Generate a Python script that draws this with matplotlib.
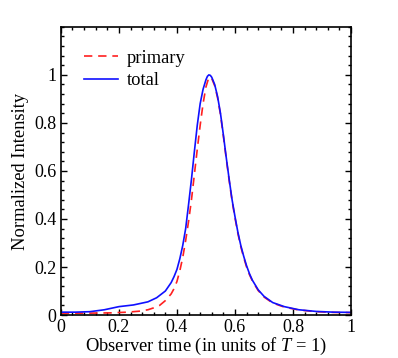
import matplotlib
matplotlib.use("Agg")
import matplotlib.pyplot as plt
from matplotlib.ticker import MultipleLocator, FuncFormatter

plt.rcParams["font.family"] = ["Liberation Serif", "DejaVu Serif"]
plt.rcParams["mathtext.fontset"] = "custom"
plt.rcParams["mathtext.it"] = "Liberation Serif:italic"
plt.rcParams["mathtext.rm"] = "Liberation Serif"

# total light curve
t_total = [0.0, 0.05, 0.1, 0.15, 0.2, 0.25, 0.3, 0.33, 0.36, 0.38, 0.39,
           0.4, 0.41, 0.42, 0.43, 0.44, 0.45, 0.46, 0.47, 0.48, 0.49, 0.5,
           0.505, 0.51, 0.515, 0.52, 0.53, 0.54, 0.55, 0.56, 0.57, 0.58,
           0.59, 0.6, 0.61, 0.62, 0.63, 0.64, 0.65, 0.66, 0.68, 0.7, 0.73,
           0.77, 0.82, 0.88, 0.94, 1.0]
i_total = [0.012, 0.012, 0.014, 0.022, 0.035, 0.042, 0.055, 0.072, 0.10,
           0.135, 0.16, 0.19, 0.235, 0.29, 0.36, 0.46, 0.565, 0.68, 0.79,
           0.88, 0.94, 0.98, 0.994, 1.0, 0.998, 0.99, 0.96, 0.91, 0.84,
           0.75, 0.655, 0.565, 0.48, 0.41, 0.345, 0.29, 0.245, 0.205, 0.172,
           0.145, 0.105, 0.078, 0.052, 0.035, 0.022, 0.015, 0.012, 0.011]

# primary emission only
t_primary = [0.0, 0.1, 0.17, 0.23, 0.27, 0.3, 0.32, 0.34, 0.36, 0.38, 0.39,
             0.4, 0.41, 0.42, 0.43, 0.44, 0.45, 0.46, 0.47, 0.48, 0.49, 0.5,
             0.51, 0.52, 0.53, 0.54, 0.55, 0.56, 0.57, 0.58, 0.59, 0.6,
             0.61, 0.62, 0.63, 0.64, 0.65, 0.66, 0.68, 0.7, 0.73, 0.77,
             0.82, 0.88, 0.94, 1.0]
i_primary = [0.008, 0.008, 0.009, 0.012, 0.016, 0.022, 0.03, 0.04, 0.06,
             0.088, 0.11, 0.14, 0.185, 0.24, 0.31, 0.39, 0.48, 0.585, 0.69,
             0.79, 0.88, 0.95, 0.99, 0.985, 0.955, 0.905, 0.835, 0.745,
             0.65, 0.56, 0.475, 0.405, 0.34, 0.285, 0.24, 0.2, 0.168,
             0.142, 0.102, 0.075, 0.05, 0.033, 0.021, 0.014, 0.011, 0.01]

fig = plt.figure(figsize=(3.98, 3.58), dpi=100)
ax = fig.add_axes([0.153, 0.12, 0.729, 0.805])

ax.plot(t_primary, i_primary, color="#ff2020", lw=1.2, ls=(0, (5, 3.5)),
        label="primary")
ax.plot(t_total, i_total, color="#1010ff", lw=1.2, label="total")

ax.set_xlim(0, 1)
ax.set_ylim(0, 1.2)
ax.xaxis.set_major_locator(MultipleLocator(0.2))
ax.xaxis.set_minor_locator(MultipleLocator(0.04))
ax.yaxis.set_major_locator(MultipleLocator(0.2))
ax.yaxis.set_minor_locator(MultipleLocator(0.04))
fmt = FuncFormatter(lambda v, p: "%g" % round(v, 2))
ax.xaxis.set_major_formatter(fmt)
ax.yaxis.set_major_formatter(fmt)
ax.set_yticks([0, 0.2, 0.4, 0.6, 0.8, 1.0])

ax.tick_params(which="both", direction="in", top=True, right=True,
               labelsize=13, width=1, pad=3)
ax.tick_params(which="major", length=4)
ax.tick_params(which="minor", length=2)
for s in ax.spines.values():
    s.set_linewidth(1.2)

ax.set_xlabel(r"Observer time (in units of $T$ = 1)", fontsize=13.3,
              labelpad=0)
ax.set_ylabel("Normalized Intensity", fontsize=13.3, labelpad=4)

ax.legend(loc="upper left", frameon=False, fontsize=13.3, handlelength=1.85,
          handletextpad=0.45, labelspacing=0.3, borderaxespad=0.85)

fig.savefig("out.png", dpi=100)
